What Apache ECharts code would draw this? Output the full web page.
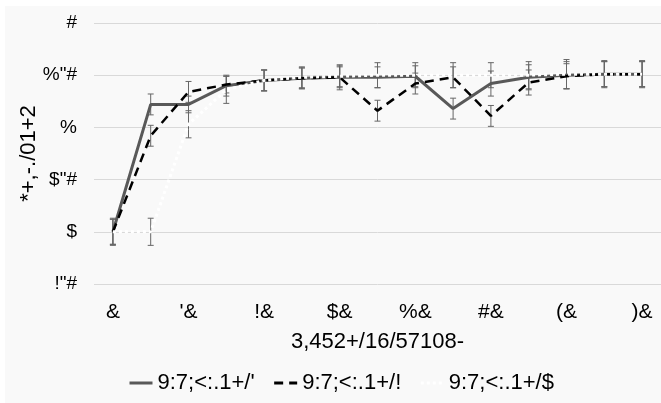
<!DOCTYPE html>
<html><head><meta charset="utf-8">
<script src="https://cdn.jsdelivr.net/npm/echarts@6/dist/echarts.min.js"></script>
<style>
html,body{margin:0;padding:0;background:#ffffff;}
#bg{position:absolute;left:5px;top:6px;width:656px;height:397px;background:#f9f9f9;}
#c{position:absolute;left:0;top:0;width:661px;height:403px;}
</style></head>
<body>
<div id="bg"></div>
<div id="c"></div>
<script>
const categories = ['&','#',"'&","'#",'!&','!#','$&','$#','%&','%#','#&','##','(&','(#',')&'];
const yTickLabels = ['!"#','$','$"#','%','%"#','#'];
const seriesNames = ["9:7;<:.1+/'", "9:7;<:.1+/!", "9:7;<:.1+/$"];
const values1 = [3.00, 4.22, 4.22, 4.40, 4.45, 4.47, 4.48, 4.48, 4.49, 4.18, 4.42, 4.48, 4.50, 4.51, 4.51];
const values2 = [3.00, 3.92, 4.34, 4.41, 4.45, 4.47, 4.48, 4.16, 4.42, 4.48, 4.11, 4.43, 4.49, 4.51, 4.51];
const values3 = [3.00, 3.00, 4.03, 4.36, 4.45, 4.48, 4.49, 4.50, 4.50, 4.50, 4.50, 4.50, 4.51, 4.51, 4.51];
const errors1 = [0.12, 0.10, 0.08, 0.10, 0.10, 0.10, 0.12, 0.10, 0.10, 0.10, 0.12, 0.12, 0.13, 0.12, 0.12];
const errors2 = [0.12, 0.10, 0.10, 0.08, 0.10, 0.10, 0.10, 0.10, 0.10, 0.10, 0.10, 0.12, 0.12, 0.12, 0.12];
const errors3 = [0.13, 0.13, 0.13, 0.13, 0.10, 0.10, 0.10, 0.12, 0.12, 0.12, 0.12, 0.13, 0.14, 0.13, 0.13];
const xAxisTitle = '3,452+/16/57108-';
const yAxisTitle = '*+,-./01+2';

const FONT = '"Liberation Sans", Arial, sans-serif';

function errData(vals, errs){
  return vals.map((v,i)=>[i, v-errs[i], v+errs[i]]);
}
function errRender(params, api){
  const x = api.value(0);
  const lo = api.coord([x, api.value(1)]);
  const hi = api.coord([x, api.value(2)]);
  const w = 3;
  const st = {stroke:'#666666', lineWidth:1};
  return {type:'group', children:[
    {type:'line', shape:{x1:lo[0],y1:lo[1],x2:hi[0],y2:hi[1]}, style:st},
    {type:'line', shape:{x1:lo[0]-w,y1:lo[1],x2:lo[0]+w,y2:lo[1]}, style:st},
    {type:'line', shape:{x1:hi[0]-w,y1:hi[1],x2:hi[0]+w,y2:hi[1]}, style:st}
  ]};
}

const chart = echarts.init(document.getElementById('c'), null, {renderer:'canvas'});
chart.setOption({
  animation:false,
  backgroundColor:'transparent',
  grid:{left:94, top:23, width:570, height:261, containLabel:false},
  xAxis:{
    type:'category', data:categories, boundaryGap:true,
    axisLine:{show:false}, axisTick:{show:false},
    axisLabel:{interval:1, color:'#000', fontSize:21, fontFamily:FONT, margin:18},
    name:xAxisTitle, nameLocation:'middle', nameGap:47,
    nameTextStyle:{color:'#000', fontSize:22, fontFamily:FONT}
  },
  yAxis:{
    type:'value', min:2.5, max:5, interval:0.5,
    axisLine:{show:false}, axisTick:{show:false},
    splitLine:{lineStyle:{color:'#d9d9d9', width:1}},
    axisLabel:{color:'#000', fontSize:19, fontFamily:FONT, margin:17,
      formatter:(v)=>yTickLabels[Math.round((v-2.5)/0.5)]},
    name:yAxisTitle, nameLocation:'middle', nameGap:54, nameMoveOverlap:false,
    nameTextStyle:{color:'#000', fontSize:22, fontFamily:FONT}
  },
  legend:{
    data:seriesNames, left:123, top:367, itemWidth:23, itemHeight:10, itemGap:18,
    itemStyle:{opacity:0},
    lineStyle:{width:3},
    textStyle:{color:'#000', fontSize:22, fontFamily:FONT}
  },
  series:[
    {type:'custom', renderItem:errRender, data:errData(values1, errors1), encode:{x:0,y:[1,2]}, z:1, silent:true},
    {type:'custom', renderItem:errRender, data:errData(values2, errors2), encode:{x:0,y:[1,2]}, z:1, silent:true},
    {type:'custom', renderItem:errRender, data:errData(values3, errors3), encode:{x:0,y:[1,2]}, z:1, silent:true},
    {name:seriesNames[0], type:'line', data:values1, symbol:'none', z:3,
      lineStyle:{color:'#595959', width:3, type:'solid'}, itemStyle:{color:'#595959'}},
    {name:seriesNames[1], type:'line', data:values2, symbol:'none', z:4,
      lineStyle:{color:'#000000', width:2.5, type:[9,6]}, itemStyle:{color:'#000000'}},
    {name:seriesNames[2], type:'line', data:values3, symbol:'none', z:5,
      lineStyle:{color:'#ffffff', width:3, type:[3,3]}, itemStyle:{color:'#ffffff'}}
  ]
});
</script>
</body></html>
